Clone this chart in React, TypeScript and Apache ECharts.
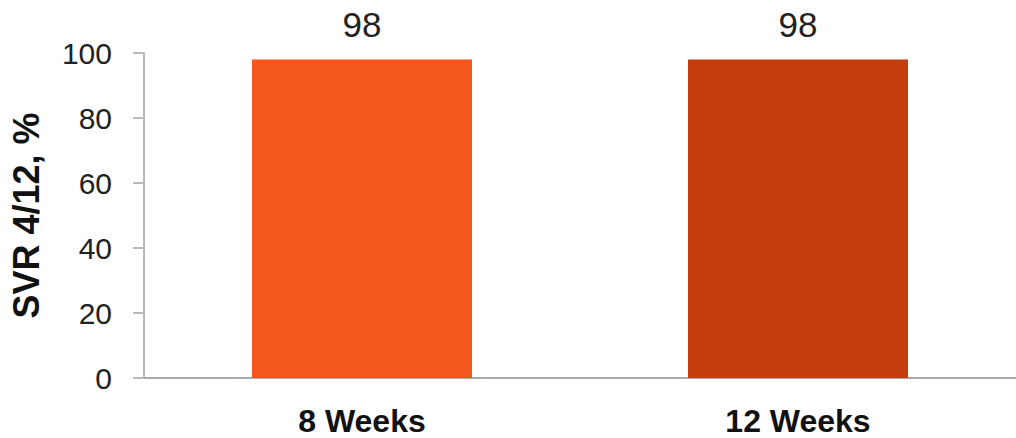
import React, { useEffect, useRef } from "react";
import * as echarts from "echarts";

const categories = ["8 Weeks", "12 Weeks"];
const values = [98, 98];
const barColors = ["#F5561A", "#C43E0D"];
const yTicks = [0, 20, 40, 60, 80, 100];

export default function App() {
  const ref = useRef<HTMLDivElement>(null);
  useEffect(() => {
    const chart = echarts.init(ref.current!, null, { renderer: "svg" });
    const font = "Liberation Sans, Arial, Helvetica, sans-serif";
    chart.setOption({
      animation: false,
      grid: { left: 144, right: -4, top: 53, bottom: 60, containLabel: false },
      xAxis: {
        type: "category",
        data: categories,
        axisLine: { lineStyle: { color: "#aaaaaa", width: 2 } },
        axisTick: { show: false },
        axisLabel: {
          margin: 27,
          fontFamily: font,
          fontSize: 32,
          fontWeight: "bold",
          color: "#111",
        },
      },
      yAxis: {
        type: "value",
        min: yTicks[0],
        max: yTicks[yTicks.length - 1],
        interval: 20,
        name: "SVR 4/12, %",
        nameLocation: "middle",
        nameGap: 100,
        nameRotate: 90,
        nameTextStyle: {
          fontFamily: font,
          fontSize: 36,
          fontWeight: "bold",
          color: "#111",
        },
        splitLine: { show: false },
        axisLine: { show: true, lineStyle: { color: "#bbbbbb", width: 2 } },
        axisTick: { show: true, length: 11, lineStyle: { color: "#bbbbbb", width: 2 } },
        axisLabel: {
          margin: 32,
          fontFamily: font,
          fontSize: 30,
          color: "#222",
        },
      },
      series: [
        {
          type: "bar",
          barWidth: 220,
          data: values.map((v, i) => ({ value: v, itemStyle: { color: barColors[i] } })),
          label: {
            show: true,
            position: "top",
            distance: 18,
            fontFamily: font,
            fontSize: 35,
            color: "#222",
          },
        },
      ],
    });
    return () => chart.dispose();
  }, []);
  return (
    <div
      ref={ref}
      style={{ position: "absolute", left: 0, top: 0, width: 1016, height: 438, background: "#fff" }}
    />
  );
}
